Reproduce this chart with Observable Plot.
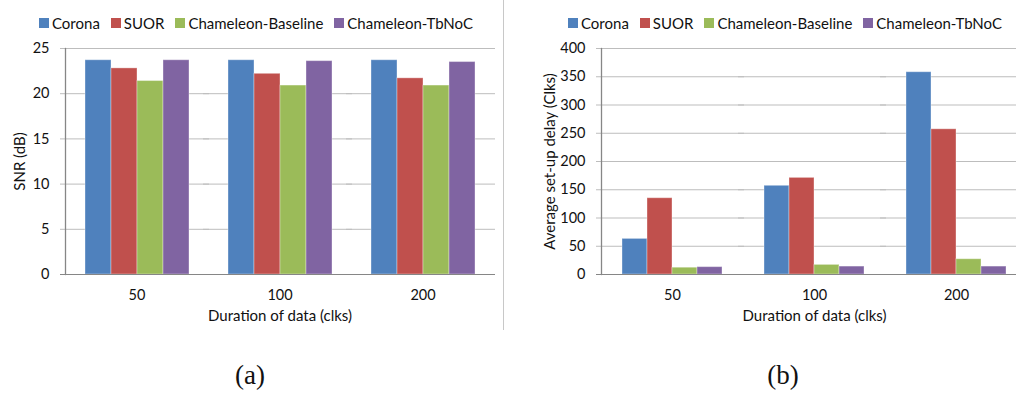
<!DOCTYPE html>
<html>
<head>
<meta charset="utf-8">
<script src="https://cdn.jsdelivr.net/npm/d3@7"></script>
<script src="https://cdn.jsdelivr.net/npm/@observablehq/plot@0.6"></script>
<style>
  html, body { margin: 0; padding: 0; background: #fff; overflow: hidden; }
  #root { position: relative; width: 1016px; height: 395px; overflow: hidden; background: #fff; }
  .panel { position: absolute; top: 0; }
  .legend { position: absolute; top: 14px; display: flex; align-items: center; font-family: Lato, sans-serif; font-size: 15px; color: #111; white-space: nowrap; }
  .legend .item { display: flex; align-items: center; margin-right: 11px; }
  .legend .sw { width: 10px; height: 10px; margin-right: 3px; }
  .sep { position: absolute; left: 503px; top: 0; width: 1px; height: 330px; background: #c8c8c8; }
  .cap { position: absolute; top: 360px; font-family: "Liberation Serif", serif; font-size: 27px; color: #111; transform: translateX(-50%); }
</style>
</head>
<body>
<div id="root">
  <div class="sep"></div>
  <div class="legend" id="legA" style="left:39px"></div>
  <div class="legend" id="legB" style="left:568px"></div>
  <div class="cap" style="left:250px">(a)</div>
  <div class="cap" style="left:783px">(b)</div>
</div>
<script>
// ---- data ----
const durations = ["50", "100", "200"];
const series = ["Corona", "SUOR", "Chameleon-Baseline", "Chameleon-TbNoC"];
const colors = ["#4F81BD", "#C0504D", "#9BBB59", "#8064A2"];

const snrCorona   = [23.7, 23.7, 23.7];
const snrSUOR     = [22.8, 22.2, 21.7];
const snrBaseline = [21.4, 20.9, 20.9];
const snrTbNoC    = [23.7, 23.6, 23.5];
const snrTicks = [0, 5, 10, 15, 20, 25];

const delayCorona   = [63, 157, 358];
const delaySUOR     = [135, 171, 257];
const delayBaseline = [12, 17, 27];
const delayTbNoC    = [13, 14, 14];
const delayTicks = [0, 50, 100, 150, 200, 250, 300, 350, 400];

const xTitle = "Duration of data (clks)";

function rows(cols) {
  const out = [];
  durations.forEach((d, i) => series.forEach((s, j) => out.push({duration: d, series: s, value: cols[j][i]})));
  return out;
}

function chart(cols, ticks, yLabel, width, marginLeft, labelOffset) {
  const data = rows(cols);
  return Plot.plot({
    width, height: 330,
    marginLeft, marginRight: 0, marginTop: 48, marginBottom: 56,
    style: {fontFamily: "Lato, sans-serif", fontSize: "14px", color: "#111", background: "transparent", overflow: "visible"},
    fx: {domain: durations, padding: 0},
    x: {domain: series, paddingInner: 0, paddingOuter: 0.74, axis: null},
    y: {domain: [ticks[0], ticks[ticks.length - 1]], ticks},
    color: {domain: series, range: colors},
    marks: [
      Plot.ruleY(ticks.slice(1), {stroke: "#bdbdbd", strokeWidth: 1, insetLeft: -5, insetRight: -1}),
      Plot.barY(data, {fx: "duration", x: "series", y: "value", fill: "series", stroke: "#ffffff", strokeOpacity: 0.35, strokeWidth: 1}),
      Plot.ruleY([0], {stroke: "#868686", strokeWidth: 1, insetLeft: -5, insetRight: -1}),
      Plot.frame({anchor: "left", facetAnchor: "left", stroke: "#868686", strokeWidth: 1.3}),
      Plot.axisY({ticks, tickSize: 0, tickPadding: 16, fontSize: 14.5, label: null}),
      Plot.axisY({ticks: [], tickSize: 0, fontSize: 15, label: yLabel, labelAnchor: "center", labelArrow: "none", labelOffset}),
      Plot.axisFx({anchor: "bottom", tickSize: 0, tickPadding: 15, fontSize: 14.5, label: null}),
      Plot.axisFx({anchor: "bottom", ticks: [], tickSize: 0, fontSize: 15, label: xTitle, labelAnchor: "center", labelArrow: "none", labelOffset: 46})
    ]
  });
}

const root = document.getElementById("root");
const a = chart([snrCorona, snrSUOR, snrBaseline, snrTbNoC], snrTicks, "SNR (dB)", 494, 64, 51);
a.classList.add("panel"); a.style.left = "0px";
root.appendChild(a);
const b = chart([delayCorona, delaySUOR, delayBaseline, delayTbNoC], delayTicks, "Average set-up delay (Clks)", 528, 100, 57);
b.classList.add("panel"); b.style.left = "500px";
root.appendChild(b);

for (const id of ["legA", "legB"]) {
  const leg = document.getElementById(id);
  series.forEach((s, i) => {
    const it = document.createElement("div"); it.className = "item";
    const sw = document.createElement("div"); sw.className = "sw"; sw.style.background = colors[i];
    const tx = document.createElement("span"); tx.textContent = s;
    it.appendChild(sw); it.appendChild(tx); leg.appendChild(it);
  });
}
</script>
</body>
</html>
